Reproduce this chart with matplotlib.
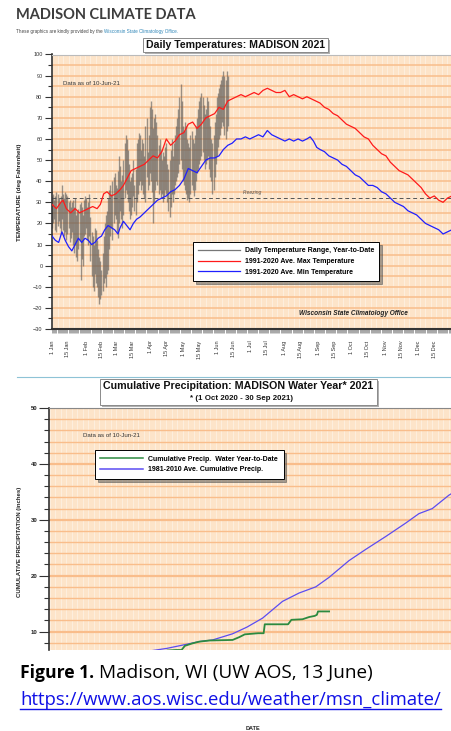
import matplotlib.pyplot as plt
import numpy as np
from matplotlib.patches import Rectangle
from matplotlib.lines import Line2D
from matplotlib.ticker import MultipleLocator, FixedLocator

plt.rcParams['font.family'] = ['Liberation Sans', 'DejaVu Sans']

W, H = 451, 731


def fx(x):
    return x / W


def fy(y):
    return 1 - y / H


# ---- calendar / tick labels ----
month_names = ['Jan', 'Feb', 'Mar', 'Apr', 'May', 'Jun',
               'Jul', 'Aug', 'Sep', 'Oct', 'Nov', 'Dec']
month_len = [31, 28, 31, 30, 31, 30, 31, 31, 30, 31, 30, 31]

# ---- daily temperature range 2021, 1 Jan .. 10 Jun (deg F) ----
range_high = [33, 34, 31, 33, 35, 34, 32, 30, 33, 38,
              34, 32, 35, 34, 33, 30, 31, 28, 30, 31,
              28, 32, 24, 26, 27, 29, 30, 28, 24, 31, 33,
              32, 28, 30, 34, 23, 16, 14, 10, 18, 17,
              12, 8, 4, 2, -2, 6, 14, 20, 24, 26,
              32, 36, 38, 34, 40, 42, 44, 38,
              37, 45, 52, 47, 40, 43, 50, 58, 62, 60,
              55, 48, 40, 42, 44, 50, 38, 46, 58, 60,
              63, 62, 55, 60, 58, 52, 66, 70, 54, 62, 75,
              78, 74, 65, 70, 72, 68, 62, 57, 60, 55,
              50, 54, 52, 56, 58, 48, 46, 50, 55, 60,
              52, 58, 62, 66, 70, 74, 80, 86, 78, 66,
              64, 68, 66, 60, 58, 56, 62, 64, 60, 58,
              62, 66, 70, 74, 78, 80, 82, 80, 76, 72,
              74, 80, 78, 70, 66, 60, 58, 62, 68, 72, 80,
              82, 84, 86, 88, 90, 92, 90, 88, 92, 90]
range_low = [18, 20, 22, 17, 16, 19, 21, 18, 15, 22,
             17, 14, 16, 12, 15, 18, 11, 13, 16, 10,
             6, 10, 4, 2, 8, 12, -7, 3, 0, 14, 15,
             18, 12, 10, 14, 2, -5, -10, -12, -4, -8,
             -10, -15, -18, -16, -14, -12, -8, -6, -10, -4,
             -2, 8, 14, 18, 12, 20, 24, 22,
             16, 13, 20, 26, 22, 18, 24, 32, 36, 34,
             30, 26, 22, 24, 28, 33, 26, 24, 30, 34,
             38, 40, 36, 38, 34, 32, 30, 42, 36, 38, 44,
             40, 35, 20, 30, 36, 40, 38, 34, 36, 32,
             34, 30, 33, 36, 34, 30, 26, 23, 28, 34,
             30, 34, 38, 40, 42, 44, 48, 50, 46, 40,
             38, 36, 34, 31, 32, 30, 34, 38, 36, 33,
             36, 40, 44, 46, 48, 50, 52, 54, 50, 46,
             48, 50, 52, 46, 42, 40, 34, 36, 42, 48, 52,
             56, 60, 62, 65, 68, 66, 62, 60, 64, 66]

# ---- 1991-2020 normals (day of year, deg F) ----
max_days = [0, 4, 8, 10, 13, 17, 21, 25, 29, 33, 37, 41, 44, 47, 50, 54, 58,
            62, 65, 69, 72, 76, 80, 84, 88, 92, 96, 100, 104, 108, 112, 116,
            120, 124, 128, 132, 136, 140, 144, 148, 152, 156, 160, 164, 168,
            172, 176, 180, 184, 188, 192, 196, 200, 204, 208, 212, 216, 220,
            224, 228, 232, 236, 240, 244, 248, 252, 256, 260, 264, 268, 272,
            276, 280, 284, 288, 292, 296, 300, 304, 308, 312, 316, 320, 324,
            328, 332, 336, 340, 344, 348, 352, 356, 360, 364]
max_vals = [29, 27, 30, 31, 27, 25, 27, 25, 26, 27, 28, 27, 29, 34, 35, 33, 34,
            36, 38, 42, 45, 46, 47, 48, 50, 52, 51, 54, 60, 57, 59, 62,
            63, 67, 68, 65, 67, 70, 71, 72, 75, 74, 78, 79, 80,
            81, 80, 81, 82, 81, 83, 84, 83, 82, 82, 83, 80, 81,
            80, 79, 80, 79, 78, 77, 75, 74, 72, 71, 69, 67, 66,
            65, 63, 61, 60, 57, 55, 53, 52, 49, 47, 45, 44, 43,
            41, 39, 37, 34, 32, 33, 31, 30, 32, 33]
min_days = [0, 3, 6, 9, 12, 15, 18, 21, 24, 27, 30, 33, 36, 39, 42, 45, 48,
            51, 54, 57, 60, 62, 65, 68, 71, 74, 77, 80, 84, 88, 92, 96, 100,
            104, 108, 112, 116, 120, 124, 128, 132, 136, 140, 144, 148, 152,
            156, 160, 164, 168, 172, 176, 180, 184, 188, 192, 196, 200, 204,
            208, 212, 216, 220, 224, 228, 232, 235, 238, 241, 244, 248, 252,
            256, 260, 264, 268, 272, 276, 280, 284, 288, 292, 296, 300, 304,
            308, 312, 316, 320, 324, 328, 332, 336, 340, 344, 348, 352, 356,
            360, 364]
min_vals = [14, 12, 11, 16, 12, 9, 7, 10, 13, 11, 13, 12, 10, 11, 13, 14, 17,
            19, 18, 17, 15, 18, 21, 19, 17, 20, 22, 23, 25, 27, 29, 31, 32,
            33, 35, 36, 38, 41, 46, 45, 44, 47, 50, 51, 51, 52,
            55, 57, 58, 60, 60, 61, 60, 61, 62, 61, 64, 62, 61,
            60, 59, 60, 59, 60, 59, 60, 61, 59, 56, 55, 54, 52,
            51, 50, 48, 47, 45, 43, 42, 40, 38, 38, 37, 35, 34,
            32, 30, 29, 28, 26, 25, 24, 22, 20, 19, 18, 17, 15,
            16, 17]

# ---- cumulative precipitation, water year (day since 1 Oct, inches) ----
avg_precip_days = [0, 31, 61, 91, 106, 135, 147, 165, 178, 192, 210, 225,
                   240, 252, 270, 285, 303, 321, 333, 345, 360, 365]
avg_precip_vals = [0.0, 2.6, 4.8, 6.55, 7.0, 8.2, 8.5, 9.6, 10.8, 12.4, 15.4,
                   16.9, 18.0, 19.7, 22.7, 24.7, 27.0, 29.4, 31.1, 32.0,
                   34.4, 35.0]
wy_precip_days = [0, 30, 60, 90, 106, 114, 119, 122, 129, 135, 144, 165,
                  171, 176, 188, 193, 194, 215, 218, 228, 234, 239, 241, 242,
                  252]
wy_precip_vals = [0.0, 1.5, 3.5, 5.5, 6.6, 6.7, 6.7, 7.45, 7.9, 8.2, 8.4, 8.5,
                  9.0, 9.5, 9.7, 9.7, 11.3, 11.3, 12.1, 12.2, 12.6, 12.8,
                  13.0, 13.6, 13.6]

peach = '#fde4c9'
grid_orange = '#f9bd8b'
dark = '#333333'

fig = plt.figure(figsize=(4.51, 7.31), dpi=100)
fig.patch.set_facecolor('white')

# ---- page header ----
fig.text(fx(16), fy(15), 'MADISON CLIMATE DATA', fontsize=10.5,
         weight='bold', color='#3d3d3d', va='center', family=['Lato', 'DejaVu Sans'])
sub = fig.text(fx(16), fy(32), 'These graphics are kindly provided by the ',
               fontsize=3.3, color='#444444', va='center')
fig.canvas.draw()
rend = fig.canvas.get_renderer()
bb = sub.get_window_extent(rend)
fig.text(bb.x1 / W, fy(32), 'Wisconsin State Climatology Office.',
         fontsize=3.3, color='#2f86b8', va='center')

# ---- top chart: daily temperatures ----
ax1 = fig.add_axes([fx(51.5), fy(329), 402 / W, (329 - 54.5) / H])
ax1.set_facecolor(peach)
ax1.set_xlim(-0.5, 365.5)
ax1.set_ylim(-30, 100)
ax1.set_axisbelow(True)
ax1.yaxis.set_major_locator(MultipleLocator(10))
ax1.yaxis.set_minor_locator(MultipleLocator(5))
ax1.yaxis.grid(True, which='both', color=grid_orange, lw=1.1)
ax1.vlines(np.arange(0, 366, 5), -30, 100, colors='white', lw=0.6,
           alpha=0.45, zorder=0.5)

days = np.arange(len(range_high))
ax1.vlines(days, range_low, range_high, colors='#5e5b58', lw=1.0,
           alpha=0.62, zorder=2)
ax1.plot(max_days, max_vals, color='#ff1a1a', lw=0.9, zorder=3)
ax1.plot(min_days, min_vals, color='#1f1fff', lw=0.9, zorder=3)
ax1.axhline(32, color='#555555', lw=0.7, ls=(0, (4, 3)), zorder=2.5)
ax1.text(173.5, 33.3, 'Freezing', fontsize=3.6, style='italic',
         color='#555555', va='bottom')
ax1.text(10, 86.5, 'Data as of 10-Jun-21', fontsize=4.4, color='#333333',
         va='center')
ax1.text(224.5, -22.5, 'Wisconsin State Climatology Office', fontsize=4.7,
         style='italic', weight='bold', color='#222222', va='center')

starts = np.concatenate([[0], np.cumsum(month_len)[:-1]])
major_pos, major_lab = [], []
for s, m in zip(starts, month_names):
    major_pos += [s, s + 14]
    major_lab += ['1 ' + m, '15 ' + m]
ax1.xaxis.set_major_locator(FixedLocator(major_pos))
ax1.set_xticklabels(major_lab, rotation=90, fontsize=4, color='#333333',
                    va='top', ha='center')
ax1.xaxis.set_minor_locator(MultipleLocator(1))
ax1.tick_params(axis='x', which='both', length=3.2, width=0.45,
                color='#777777', pad=5)
ax1.tick_params(axis='y', which='major', length=5, width=0.8, color=dark,
                labelsize=4, labelcolor='#333333', pad=1.5)
ax1.tick_params(axis='y', which='minor', length=3, width=0.8, color=dark)
ax1.spines['right'].set_visible(False)
ax1.spines['top'].set_color('#bbbbbb')
ax1.spines['top'].set_linewidth(0.8)
ax1.spines['left'].set_color(dark)
ax1.spines['left'].set_linewidth(1.2)
ax1.spines['bottom'].set_color(dark)
ax1.spines['bottom'].set_linewidth(1.5)

h1 = [Line2D([], [], color='#777777', lw=0.9),
      Line2D([], [], color='#ff1a1a', lw=0.9),
      Line2D([], [], color='#1f1fff', lw=0.9)]
l1 = ['Daily Temperature Range, Year-to-Date',
      '1991-2020 Ave. Max Temperature',
      '1991-2020 Ave. Min Temperature']
leg1 = ax1.legend(h1, l1, loc='upper left', bbox_to_anchor=(0.352, 0.317),
                  prop=dict(size=5.0, weight='bold'), handlelength=6.0,
                  frameon=True, fancybox=False, shadow=True,
                  borderpad=0.75, labelspacing=0.55, handletextpad=0.7,
                  borderaxespad=0)
leg1.get_frame().set_edgecolor('black')
leg1.get_frame().set_linewidth(0.7)

fig.text(fx(20), fy(192), 'TEMPERATURE (deg Fahrenheit)', rotation=90,
         fontsize=4.5, weight='bold', color='#222222', ha='center',
         va='center')

# title box top
fig.add_artist(Rectangle((fx(145), fy(54)), 185 / W, 14 / H,
                         transform=fig.transFigure, fc='#b0b0b0', ec='none'))
fig.add_artist(Rectangle((fx(143), fy(52)), 185 / W, 14 / H,
                         transform=fig.transFigure, fc='white',
                         ec='#8a8a8a', lw=0.7))
fig.text(fx(235.5), fy(45), 'Daily Temperatures: MADISON 2021', fontsize=7.6,
         weight='bold', ha='center', va='center', color='#111111')

# ---- separator ----
fig.add_artist(Line2D([fx(17), fx(451)], [fy(377), fy(377)],
                      transform=fig.transFigure, color='#8ec3d6', lw=0.8))

# ---- bottom chart: cumulative precipitation ----
ax2 = fig.add_axes([fx(49), fy(650), 406 / W, 242 / H])
ax2.set_facecolor(peach)
ax2.set_xlim(-0.5, 365.5)
ax2.set_ylim(6.7, 50)
ax2.set_axisbelow(True)
ax2.yaxis.set_major_locator(MultipleLocator(10))
ax2.yaxis.set_minor_locator(MultipleLocator(2))
ax2.yaxis.grid(True, which='major', color=grid_orange, lw=1.6)
ax2.yaxis.grid(True, which='minor', color=grid_orange, lw=1.0)
ax2.vlines(np.arange(0, 366, 5), 0, 50, colors='white', lw=0.6,
           alpha=0.45, zorder=0.5)
ax2.plot(avg_precip_days, avg_precip_vals, color='#5b4cf2', lw=0.9, zorder=3)
ax2.plot(wy_precip_days, wy_precip_vals, color='#2c8a40', lw=1.3, zorder=3)
ax2.text(30, 45, 'Data as of 10-Jun-21', fontsize=4.4, color='#333333',
         va='center')
ax2.set_xticks([])
ax2.tick_params(axis='y', which='major', length=7, width=0.8, color=dark,
                labelsize=4.3, labelcolor='#222222', pad=1.5)
for lab in ax2.get_yticklabels():
    lab.set_fontweight('bold')
ax2.tick_params(axis='y', which='minor', length=3.5, width=0.8, color=dark)
ax2.spines['right'].set_visible(False)
ax2.spines['bottom'].set_visible(False)
ax2.spines['top'].set_color('#888888')
ax2.spines['top'].set_linewidth(0.8)
ax2.spines['left'].set_color(dark)
ax2.spines['left'].set_linewidth(1.2)

h2 = [Line2D([], [], color='#2c8a40', lw=1.1),
      Line2D([], [], color='#5b4cf2', lw=1.1)]
l2 = ['Cumulative Precip.  Water Year-to-Date',
      '1981-2010 Ave. Cumulative Precip.']
leg2 = ax2.legend(h2, l2, loc='upper left', bbox_to_anchor=(0.113, 0.826),
                  prop=dict(size=5.0, weight='bold'), handlelength=6.2,
                  frameon=True, fancybox=False, shadow=True,
                  borderpad=0.8, labelspacing=0.55, handletextpad=0.7,
                  borderaxespad=0)
leg2.get_frame().set_edgecolor('black')
leg2.get_frame().set_linewidth(0.7)

fig.text(fx(20), fy(542), 'CUMULATIVE PRECIPITATION (inches)', rotation=90,
         fontsize=4.3, weight='bold', color='#222222', ha='center',
         va='center')

# title box bottom
fig.add_artist(Rectangle((fx(102), fy(407)), 277 / W, 26 / H,
                         transform=fig.transFigure, fc='#b0b0b0', ec='none'))
fig.add_artist(Rectangle((fx(100), fy(405)), 277 / W, 26 / H,
                         transform=fig.transFigure, fc='white',
                         ec='#8a8a8a', lw=0.7))
fig.text(fx(238), fy(385.5), 'Cumulative Precipitation: MADISON Water Year* 2021',
         fontsize=7.7, weight='bold', ha='center', va='center', color='#111111')
fig.text(fx(241), fy(398), '* (1 Oct 2020 - 30 Sep 2021)', fontsize=5.7,
         weight='bold', ha='center', va='center', color='#111111')

# ---- caption ----
cap_font = ['Open Sans', 'DejaVu Sans']
t1 = fig.text(fx(20), fy(673), 'Figure 1.', fontsize=12.6, weight='bold',
              family=cap_font, va='center', color='black')
fig.canvas.draw()
bb = t1.get_window_extent(rend)
fig.text(bb.x1 / W + fx(5), fy(673), 'Madison, WI (UW AOS, 13 June)',
         fontsize=13.7, family=cap_font, va='center', color='black')
url = fig.text(fx(20), fy(700), 'https://www.aos.wisc.edu/weather/msn_climate/',
               fontsize=13.3, family=cap_font, va='center', color='#1010e6')
fig.canvas.draw()
ub = url.get_window_extent(rend)
fig.add_artist(Line2D([fx(20), ub.x1 / W], [fy(709), fy(709)],
                      transform=fig.transFigure, color='#1010e6', lw=1.0))
fig.text(fx(253), fy(728), 'DATE', fontsize=4, weight='bold',
         ha='center', va='center', color='#222222')

fig.savefig('out.png', dpi=100, facecolor='white')
